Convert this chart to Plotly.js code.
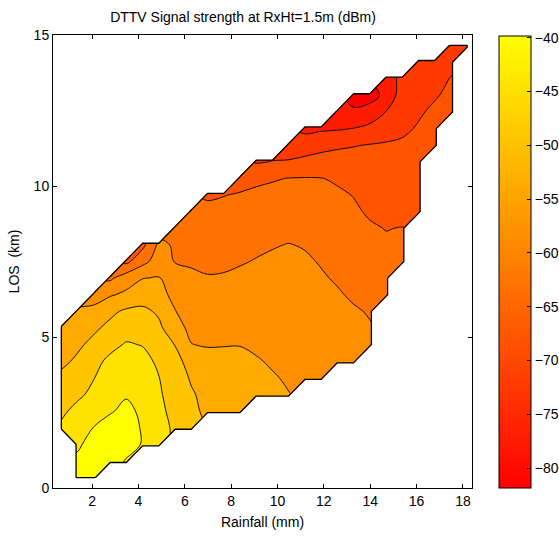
<!DOCTYPE html>
<html><head><meta charset="utf-8">
<script src="https://cdn.plot.ly/plotly-3.0.1.min.js"></script>
<style>html,body{margin:0;padding:0;background:#fff;}</style>
</head><body><div id="chart" style="width:559px;height:539px;"></div>
<script>
// Rainfall (mm) grid columns
const rainfall = [0.68,1.38,2.08,2.78,3.48,4.18,4.88,5.58,6.28,6.98,7.68,8.38,9.08,9.78,10.48,11.18,11.88,12.58,13.28,13.98,14.68,15.38,16.08,16.78,17.48,18.18];
// LOS (km) grid rows
const los = [0.35,0.90,1.45,2.00,2.55,3.10,3.65,4.20,4.75,5.30,5.85,6.40,6.95,7.50,8.05,8.60,9.15,9.70,10.25,10.80,11.35,11.90,12.45,13.00,13.55,14.10,14.65];
const N = null;
// Signal strength (dBm), one row per LOS value, null = no data
const signal = [
[N,-42.5,-41.0,N,N,N,N,N,N,N,N,N,N,N,N,N,N,N,N,N,N,N,N,N,N,N],
[N,-43.0,-41.0,-40.3,-44.6,N,N,N,N,N,N,N,N,N,N,N,N,N,N,N,N,N,N,N,N,N],
[N,-44.8,-42.0,-40.5,-40.8,-44.5,-46.8,N,N,N,N,N,N,N,N,N,N,N,N,N,N,N,N,N,N,N],
[-47.5,-46.0,-43.9,-41.5,-41.2,-44.6,-46.5,-49.0,-51.0,N,N,N,N,N,N,N,N,N,N,N,N,N,N,N,N,N],
[-49.0,-47.0,-45.5,-44.6,-42.5,-45.2,-47.2,-49.5,-51.2,-53.5,-54.5,-55.3,N,N,N,N,N,N,N,N,N,N,N,N,N,N],
[-50.0,-49.0,-47.2,-45.8,-44.6,-45.5,-47.6,-50.3,-52.0,-53.5,-54.6,-55.3,-55.8,-56.2,-56.5,N,N,N,N,N,N,N,N,N,N,N],
[-51.6,-50.0,-48.3,-46.5,-45.8,-46.0,-48.1,-50.4,-52.8,-54.0,-54.8,-55.3,-55.8,-56.3,-57.0,-57.8,-58.3,N,N,N,N,N,N,N,N,N],
[-53.2,-51.8,-49.5,-47.2,-46.5,-46.8,-49.0,-51.5,-53.5,-54.6,-55.3,-55.8,-56.3,-57.0,-57.6,-58.2,-58.7,-59.2,-59.6,N,N,N,N,N,N,N],
[-54.5,-53.0,-51.5,-49.5,-47.8,-48.4,-50.3,-52.5,-56.5,-57.0,-56.8,-56.7,-57.2,-57.8,-58.3,-58.7,-59.1,-59.5,-59.9,-60.3,N,N,N,N,N,N],
[-55.5,-54.5,-53.0,-51.5,-50.2,-50.3,-51.6,-55.0,-57.6,-57.5,-57.6,-57.7,-58.0,-58.4,-58.7,-59.0,-59.4,-59.8,-60.2,-60.6,N,N,N,N,N,N],
[N,-56.0,-54.8,-53.2,-51.8,-51.5,-53.0,-56.5,-57.8,-58.0,-58.0,-58.2,-58.4,-58.7,-59.0,-59.3,-59.7,-60.1,-60.5,-61.0,N,N,N,N,N,N],
[N,N,-59.5,-57.0,-55.8,-54.5,-55.5,-57.5,-58.3,-58.5,-58.6,-58.8,-59.0,-59.3,-59.6,-59.9,-60.2,-60.5,-61.2,-62.0,-62.5,N,N,N,N,N],
[N,N,N,-61.5,-58.5,-56.7,-56.4,-58.2,-59.7,-60.5,-60.4,-60.0,-59.8,-59.8,-59.9,-60.2,-60.5,-61.1,-62.0,-62.7,-63.2,N,N,N,N,N],
[N,N,N,N,-66.0,-62.0,-59.0,-61.0,-61.5,-61.8,-61.6,-61.1,-60.6,-60.3,-60.2,-60.4,-61.0,-62.0,-62.8,-63.4,-63.8,-64.2,N,N,N,N],
[N,N,N,N,N,-66.0,-60.0,-61.2,-62.2,-62.6,-62.5,-62.0,-61.5,-61.0,-60.7,-61.0,-61.8,-62.6,-63.3,-63.9,-64.5,-64.8,N,N,N,N],
[N,N,N,N,N,N,N,-61.5,-62.8,-63.2,-63.2,-62.9,-62.5,-62.0,-61.8,-62.0,-62.5,-63.2,-63.9,-64.6,-65.1,-64.9,N,N,N,N],
[N,N,N,N,N,N,N,N,-63.5,-64.0,-64.0,-63.7,-63.3,-62.9,-62.7,-62.8,-63.2,-63.8,-64.5,-65.4,-65.9,-66.2,-66.5,N,N,N],
[N,N,N,N,N,N,N,N,N,-65.5,-65.1,-64.7,-64.3,-64.0,-63.8,-63.8,-64.0,-64.5,-65.1,-66.0,-66.6,-67.0,-67.2,N,N,N],
[N,N,N,N,N,N,N,N,N,N,N,-66.5,-65.7,-65.3,-64.9,-64.8,-64.9,-65.4,-66.2,-66.8,-67.3,-67.6,-67.8,N,N,N],
[N,N,N,N,N,N,N,N,N,N,N,N,-69.5,-69.1,-68.8,-68.3,-67.8,-67.5,-67.5,-67.8,-68.1,-68.3,-68.4,N,N,N],
[N,N,N,N,N,N,N,N,N,N,N,N,N,N,-72.0,-71.0,-70.3,-69.8,-69.4,-69.0,-68.7,-68.7,-68.9,-69.0,N,N],
[N,N,N,N,N,N,N,N,N,N,N,N,N,N,N,-74.5,-74.0,-73.8,-73.3,-72.5,-71.3,-69.8,-68.9,-68.5,N,N],
[N,N,N,N,N,N,N,N,N,N,N,N,N,N,N,N,N,-76.5,-77.0,-75.5,-73.3,-71.5,-69.6,-68.6,-68.3,N],
[N,N,N,N,N,N,N,N,N,N,N,N,N,N,N,N,N,N,-79.0,-79.5,-76.3,-71.5,-71.0,-69.5,-68.5,N],
[N,N,N,N,N,N,N,N,N,N,N,N,N,N,N,N,N,N,N,N,-76.0,-72.0,-70.8,-70.0,-69.1,N],
[N,N,N,N,N,N,N,N,N,N,N,N,N,N,N,N,N,N,N,N,N,N,-71.5,-70.6,-69.8,N],
[N,N,N,N,N,N,N,N,N,N,N,N,N,N,N,N,N,N,N,N,N,N,N,N,-70.5,-69.3]
];
const levelStart = -77.6, levelEnd = -44.0, levelStep = 4.2;
const colorMin = -81.8, colorMax = -39.8;
const colorbarTicks = [-80,-75,-70,-65,-60,-55,-50,-45,-40];
const xTicks = [2,4,6,8,10,12,14,16,18];
const yTicks = [0,5,10,15];

const autumn = [[0,'rgb(255,0,0)'],[1,'rgb(255,255,0)']];
const FONT = 'Liberation Sans, Arial, Helvetica, sans-serif';

// outline of the data region: mask (1 = data) padded with an empty ring
const pad = 0.07;
const maskX = [rainfall[0]-pad].concat(rainfall, [rainfall[rainfall.length-1]+pad]);
const maskY = [los[0]-pad].concat(los, [los[los.length-1]+pad]);
const emptyRow = maskX.map(() => 0);
const maskZ = [emptyRow].concat(signal.map(r => [0].concat(r.map(v => v === null ? 0 : 1), [0])), [emptyRow]);

const traces = [
  {
    type: 'contour', x: rainfall, y: los, z: signal,
    connectgaps: false, autocontour: false,
    contours: {start: levelStart, end: levelEnd, size: levelStep, coloring: 'fill', showlines: true},
    line: {color: '#000', width: 0.9},
    colorscale: autumn, showscale: false, hoverinfo: 'skip'
  },
  {
    type: 'contour', x: maskX, y: maskY, z: maskZ,
    autocontour: false,
    contours: {start: 0.9, end: 0.9, size: 1, coloring: 'none', showlines: true},
    line: {color: '#000', width: 1.3, smoothing: 0},
    showscale: false, hoverinfo: 'skip'
  },
  {
    type: 'scatter', x: [null], y: [null], mode: 'markers', hoverinfo: 'skip', showlegend: false,
    marker: {
      color: [colorMin], cmin: colorMin, cmax: colorMax, colorscale: autumn, showscale: true,
      colorbar: {
        x: 1.0644, xanchor: 'left', xpad: 0, y: 0.5, yanchor: 'middle', ypad: 0,
        len: 452, lenmode: 'pixels', thickness: 32, thicknessmode: 'pixels',
        outlinewidth: 1, outlinecolor: '#000', borderwidth: 0,
        tickmode: 'array', tickvals: colorbarTicks, ticks: 'inside', ticklen: 4, tickcolor: '#000',
        tickfont: {family: FONT, size: 14, color: '#000'}
      }
    }
  }
];

const axisCommon = {
  showgrid: false, zeroline: false, showline: true, linecolor: '#000', linewidth: 1,
  mirror: 'ticks', ticks: 'inside', ticklen: 4, tickcolor: '#000',
  tickfont: {family: FONT, size: 14, color: '#000'}
};

const layout = {
  width: 559, height: 539,
  margin: {l: 53, r: 87, t: 35, b: 51, autoexpand: false},
  paper_bgcolor: '#fff', plot_bgcolor: '#fff',
  font: {family: FONT, size: 14, color: '#000'},
  title: {text: 'DTTV Signal strength at RxHt=1.5m (dBm)', x: 0.4535, xref: 'paper', xanchor: 'center', y: 0.968, yanchor: 'middle', font: {family: FONT, size: 14, color: '#000'}},
  xaxis: Object.assign({}, axisCommon, {range: [0.315, 18.39], tickmode: 'array', tickvals: xTicks,
    title: {text: 'Rainfall (mm)', font: {family: FONT, size: 14, color: '#000'}, standoff: 9}}),
  yaxis: Object.assign({}, axisCommon, {range: [0, 15], tickmode: 'array', tickvals: yTicks,
    title: {text: 'LOS  (km)', font: {family: FONT, size: 14, color: '#000'}, standoff: 10}}),
  showlegend: false
};

Plotly.newPlot('chart', traces, layout, {displayModeBar: false, staticPlot: true});
</script>
</body></html>
